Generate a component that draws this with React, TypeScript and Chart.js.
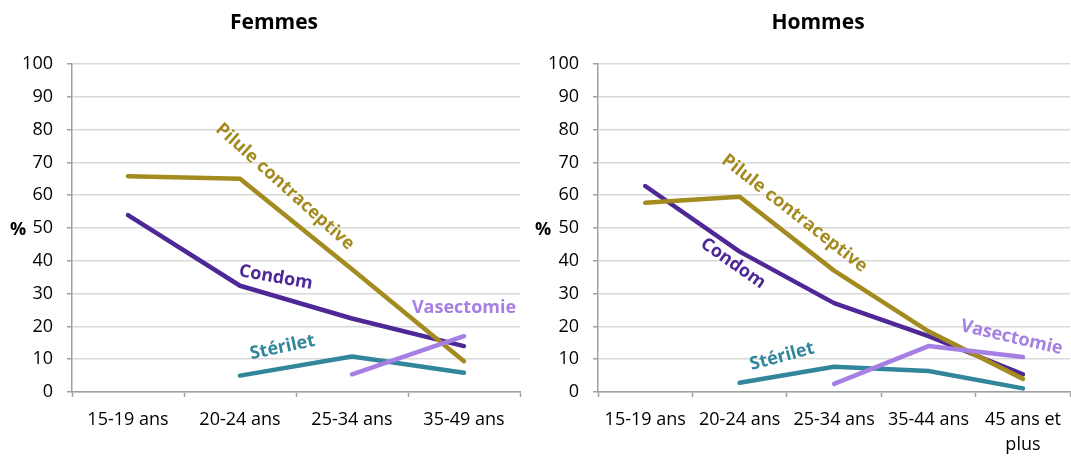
import React, { useEffect, useRef } from 'react';
import { Chart, registerables } from 'chart.js';

Chart.register(...registerables);

// ---------- Data ----------
const femmesCategories: (string | string[])[] = ['15-19 ans', '20-24 ans', '25-34 ans', '35-49 ans'];
const femmesPilule = [65.8, 65.0, 37.4, 9.4];
const femmesCondom = [53.9, 32.4, 22.4, 14.0];
const femmesSterilet = [null, 5.0, 10.8, 5.9];
const femmesVasectomie = [null, null, 5.4, 17.0];

const hommesCategories: (string | string[])[] = ['15-19 ans', '20-24 ans', '25-34 ans', '35-44 ans', ['45 ans et', 'plus']];
const hommesPilule = [57.7, 59.5, 37.0, 18.5, 4.0];
const hommesCondom = [62.8, 42.8, 27.1, 17.0, 5.4];
const hommesSterilet = [null, 2.8, 7.7, 6.4, 1.1];
const hommesVasectomie = [null, null, 2.5, 14.0, 10.7];

const seriesNames = ['Pilule contraceptive', 'Condom', 'Stérilet', 'Vasectomie'];
const yMin = 0;
const yMax = 100;
const yStep = 10;

// ---------- Styles ----------
const COLORS: Record<string, string> = {
  'Pilule contraceptive': '#a48b20',
  Condom: '#4e2896',
  'Stérilet': '#31869b',
  Vasectomie: '#a67fe3',
};
const FONT = '"Open Sans", "DejaVu Sans", sans-serif';

type Label = { text: string; x: number; y: number; angle: number };

const femmesLabels: Label[] = [
  { text: 'Pilule contraceptive', x: 1.40, y: 62.6, angle: 42 },
  { text: 'Condom', x: 1.32, y: 34.9, angle: 10 },
  { text: 'Vasectomie', x: 3.0, y: 25.8, angle: 0 },
  { text: 'Stérilet', x: 1.38, y: 13.6, angle: -12 },
];
const hommesLabels: Label[] = [
  { text: 'Pilule contraceptive', x: 1.58, y: 54.4, angle: 38 },
  { text: 'Condom', x: 0.93, y: 39.2, angle: 35 },
  { text: 'Vasectomie', x: 3.88, y: 16.6, angle: 13 },
  { text: 'Stérilet', x: 1.45, y: 10.8, angle: -15 },
];

type PanelProps = {
  title: string;
  categories: (string | string[])[];
  series: (number | null)[][];
  labels: Label[];
  left: number;
  width: number;
  yAxisWidth: number;
  padRight: number;
  titleX: number;
  percentX: number;
};

function Panel(p: PanelProps) {
  const ref = useRef<HTMLCanvasElement | null>(null);
  useEffect(() => {
    if (!ref.current) return;
    const overlay = {
      id: 'overlay',
      afterDatasetsDraw(chart: any) {
        const ctx = chart.ctx;
        const xs = chart.scales.x;
        const ys = chart.scales.y;
        ctx.save();
        ctx.fillStyle = '#000';
        ctx.textAlign = 'center';
        ctx.textBaseline = 'alphabetic';
        ctx.font = `bold 21px ${FONT}`;
        ctx.fillText(p.title, p.titleX, 28.5);
        ctx.font = `bold 18px ${FONT}`;
        ctx.fillText('%', p.percentX, ys.getPixelForValue(50) + 6.5);
        for (const l of p.labels) {
          const x = xs.getPixelForValue(l.x);
          const y = ys.getPixelForValue(l.y);
          ctx.save();
          ctx.translate(x, y);
          ctx.rotate((l.angle * Math.PI) / 180);
          ctx.fillStyle = COLORS[l.text];
          ctx.textBaseline = 'middle';
          ctx.font = `bold 18px ${FONT}`;
          ctx.fillText(l.text, 0, 0);
          ctx.restore();
        }
        ctx.restore();
      },
    };
    // drawing order: Vasectomie on top, then Pilule, Condom, Stérilet
    const orderMap: Record<string, number> = {
      Vasectomie: 0,
      'Pilule contraceptive': 1,
      Condom: 2,
      'Stérilet': 3,
    };
    const chart = new Chart(ref.current, {
      type: 'line',
      data: {
        labels: p.categories as any,
        datasets: seriesNames.map((name, i) => ({
          label: name,
          data: p.series[i],
          borderColor: COLORS[name],
          backgroundColor: COLORS[name],
          borderWidth: 4.5,
          borderCapStyle: 'round',
          borderJoinStyle: 'round',
          pointRadius: 0,
          pointHoverRadius: 0,
          tension: 0,
          spanGaps: false,
          order: orderMap[name],
        })) as any,
      },
      options: {
        animation: false,
        responsive: false,
        maintainAspectRatio: false,
        events: [],
        layout: { padding: { top: 64, right: p.padRight, bottom: 0, left: 0 } },
        plugins: {
          legend: { display: false },
          title: { display: false },
          tooltip: { enabled: false },
        },
        scales: {
          x: {
            type: 'category',
            offset: true,
            grid: {
              display: true,
              drawOnChartArea: false,
              drawTicks: true,
              tickLength: 5,
              tickColor: '#a0a0a0',
              tickWidth: 1.5,
              offset: true,
            },
            border: { display: true, color: '#a0a0a0', width: 1.5 },
            ticks: {
              autoSkip: false,
              maxRotation: 0,
              minRotation: 0,
              padding: 10,
              color: '#000',
              font: { family: FONT, size: 18, lineHeight: 1.4 },
            },
            afterFit: (s: any) => {
              s.height = 457 - 392;
            },
          },
          y: {
            min: yMin,
            max: yMax,
            grid: {
              color: '#d9d9d9',
              lineWidth: 1.5,
              tickLength: 5,
              tickColor: '#a0a0a0',
              tickWidth: 1.5,
            },
            border: { display: true, color: '#a0a0a0', width: 1.5 },
            ticks: {
              stepSize: yStep,
              padding: 14,
              color: '#000',
              font: { family: FONT, size: 18 },
            },
            afterFit: (s: any) => {
              s.width = p.yAxisWidth;
            },
          },
        },
      },
      plugins: [overlay],
    } as any);
    return () => chart.destroy();
  }, []);
  return (
    <div style={{ position: 'absolute', left: p.left, top: 0, width: p.width, height: 457 }}>
      <canvas ref={ref} width={p.width} height={457} style={{ display: 'block' }} />
    </div>
  );
}

export default function App() {
  return (
    <div style={{ position: 'absolute', left: 0, top: 0, width: 1071, height: 457, background: '#fff', overflow: 'hidden' }}>
      <Panel
        title="Femmes"
        categories={femmesCategories}
        series={[femmesPilule, femmesCondom, femmesSterilet, femmesVasectomie]}
        labels={femmesLabels}
        left={0}
        width={530}
        yAxisWidth={72}
        padRight={10}
        titleX={274}
        percentX={18}
      />
      <Panel
        title="Hommes"
        categories={hommesCategories}
        series={[hommesPilule, hommesCondom, hommesSterilet, hommesVasectomie]}
        labels={hommesLabels}
        left={530}
        width={541}
        yAxisWidth={68}
        padRight={0}
        titleX={288}
        percentX={13}
      />
    </div>
  );
}
